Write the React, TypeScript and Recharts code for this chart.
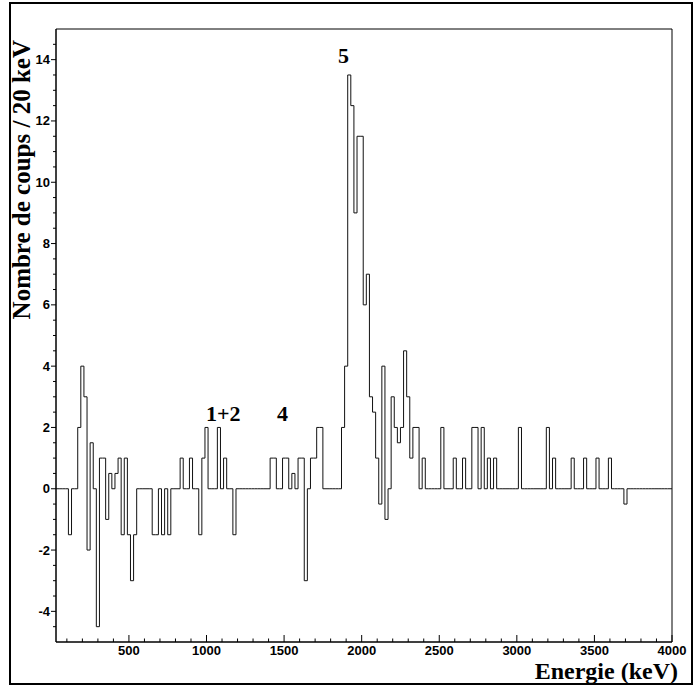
import React from 'react';
import {
  ComposedChart,
  Line,
  XAxis,
  YAxis,
  ReferenceArea,
  ReferenceDot,
  Customized,
} from 'recharts';

// Histogram: 20 keV bins, first bin starts at 30 keV
const BIN_START = 30;
const BIN_WIDTH = 20;
const X_MAX = 4000;

// Counts per bin (net counts / 20 keV), 10 bins (200 keV) per row
const counts: number[] = [
  0, 0, 0, 0, -1.5, 0, 0, 2, 4, 3, // 30-210
  -2, 1.5, 0, -4.5, 1, 1, -1, 0.5, 0, 0.5, // 230-410
  1, -1.5, 1, -1.5, -3, -1.5, 0, 0, 0, 0, // 430-610
  0, -1.5, -1.5, 0, -1.5, 0, -1.5, 0, 0, 0, // 630-810
  1, 0, 0, 1, 0, 0, -1.5, 1, 2, 0, // 830-1010
  0, 0, 2, 0, 1, 0, 0, -1.5, 0, 0, // 1030-1210
  0, 0, 0, 0, 0, 0, 0, 0, 0, 1, // 1230-1410
  1, 0, 0, 1, 1, 0, 0.5, 0, 1, 1, // 1430-1610
  -3, 0, 1, 1, 2, 2, 0, 0, 0, 0, // 1630-1810
  0, 0, 2, 4, 13.5, 12.5, 9, 11.5, 11.5, 6, // 1830-2010
  7, 3, 2.5, 1, -0.5, 4, -1, 0, 3, 2, // 2030-2210
  1.5, 2, 4.5, 3, 1, 2, 2, 0, 1, 0, // 2230-2410
  0, 0, 0, 0, 2, 0, 0, 0, 1, 0, // 2430-2610
  0, 1, 0, 0, 2, 2, 0, 2, 0, 1, // 2630-2810
  0, 1, 0, 0, 0, 0, 0, 0, 0, 2, // 2830-3010
  0, 0, 0, 0, 0, 0, 0, 0, 2, 0, // 3030-3210
  1, 0, 0, 0, 0, 0, 1, 0, 0, 0, // 3230-3410
  1, 0, 0, 0, 1, 0, 0, 0, 1, 0, // 3430-3610
  0, 0, 0, -0.5, 0, 0, 0, 0, 0, 0, // 3630-3810
  0, 0, 0, 0, 0, 0, 0, 0, // 3830-3970
];

const xTicks: number[] = [
  100, 200, 300, 400, 500, 600, 700, 800, 900, 1000, 1100, 1200, 1300, 1400, 1500,
  1600, 1700, 1800, 1900, 2000, 2100, 2200, 2300, 2400, 2500, 2600, 2700, 2800,
  2900, 3000, 3100, 3200, 3300, 3400, 3500, 3600, 3700, 3800, 3900, 4000,
];
const yTicks: number[] = [
  -4.5, -4, -3.5, -3, -2.5, -2, -1.5, -1, -0.5, 0, 0.5, 1, 1.5, 2, 2.5, 3, 3.5, 4,
  4.5, 5, 5.5, 6, 6.5, 7, 7.5, 8, 8.5, 9, 9.5, 10, 10.5, 11, 11.5, 12, 12.5, 13,
  13.5, 14, 14.5,
];

const peakLabels: { x: number; y: number; text: string }[] = [
  { x: 1108, y: 2.2, text: '1+2' },
  { x: 1489, y: 2.2, text: '4' },
  { x: 1883, y: 13.9, text: '5' },
];

const data = counts
  .map((c, i) => ({ x: BIN_START + i * BIN_WIDTH, y: c }))
  .concat([{ x: X_MAX, y: 0 }]);

const SERIF = '"Liberation Serif", "Times New Roman", serif';
const SANS = '"Liberation Sans", Arial, Helvetica, sans-serif';

const XTick = (props: any) => {
  const { x, y, payload } = props;
  const major = payload.value % 500 === 0;
  return (
    <g>
      <line x1={x} x2={x} y1={y} y2={y - (major ? 7 : 3.5)} stroke="#000" strokeWidth={1} />
      {major && (
        <text x={x} y={y + 13} textAnchor="middle" fontFamily={SANS} fontWeight="bold" fontSize={13} fill="#000">
          {payload.value}
        </text>
      )}
    </g>
  );
};

const YTick = (props: any) => {
  const { x, y, payload } = props;
  const v = payload.value;
  const major = Math.abs(v % 2) < 1e-9;
  return (
    <g>
      <line x1={x} x2={x - (major ? 5 : 3)} y1={y} y2={y} stroke="#000" strokeWidth={1} />
      {major && (
        <text x={x - 6} y={y + 4.5} textAnchor="end" fontFamily={SANS} fontWeight="bold" fontSize={13} fill="#000">
          {v}
        </text>
      )}
    </g>
  );
};

const Titles = () => (
  <g>
    <text
      x={30}
      y={40}
      transform="rotate(-90, 30, 40)"
      textAnchor="end"
      fontFamily={SERIF}
      fontWeight="bold"
      fontSize={25}
      fill="#000"
    >
      Nombre de coups / 20 keV
    </text>
    <text x={678} y={679} textAnchor="end" fontFamily={SERIF} fontWeight="bold" fontSize={24} fill="#000">
      Energie (keV)
    </text>
  </g>
);

export default function App() {
  return (
    <div style={{ position: 'absolute', left: 0, top: 0, width: 699, height: 686, background: '#fff' }}>
      <div
        style={{
          position: 'absolute',
          left: 9,
          top: 2,
          width: 684,
          height: 683,
          border: '2px solid #000',
          boxSizing: 'border-box',
        }}
      />
      <div style={{ position: 'absolute', left: 0, top: 0 }}>
        <ComposedChart
          width={699}
          height={686}
          data={data}
          margin={{ top: 29, right: 27, bottom: 43, left: 55 }}
        >
          <ReferenceArea x1={BIN_START} x2={X_MAX} y1={-5} y2={15} fill="none" stroke="#000" strokeWidth={1} />
          <XAxis
            type="number"
            dataKey="x"
            domain={[BIN_START, X_MAX]}
            allowDataOverflow
            ticks={xTicks}
            interval={0}
            height={1}
            tickSize={0}
            tickMargin={0}
            tickLine={false}
            tick={<XTick />}
            axisLine={{ stroke: '#000' }}
          />
          <YAxis
            type="number"
            domain={[-5, 15]}
            allowDataOverflow
            ticks={yTicks}
            interval={0}
            width={1}
            tickSize={0}
            tickMargin={0}
            tickLine={false}
            tick={<YTick />}
            axisLine={{ stroke: '#000' }}
          />
          <Line
            type="stepAfter"
            dataKey="y"
            stroke="#111"
            strokeWidth={1}
            dot={false}
            activeDot={false}
            isAnimationActive={false}
          />
          {peakLabels.map((p) => (
            <ReferenceDot
              key={p.text}
              x={p.x}
              y={p.y}
              r={0}
              fill="none"
              stroke="none"
              label={{
                content: (lp: any) => {
                  const vb = lp.viewBox || {};
                  return (
                    <text
                      x={vb.x + (vb.width || 0) / 2}
                      y={vb.y + (vb.height || 0) / 2}
                      textAnchor="middle"
                      fontFamily={SERIF}
                      fontWeight="bold"
                      fontSize={22}
                      fill="#000"
                    >
                      {p.text}
                    </text>
                  );
                },
              }}
            />
          ))}
          <Customized component={<Titles />} />
        </ComposedChart>
      </div>
    </div>
  );
}
